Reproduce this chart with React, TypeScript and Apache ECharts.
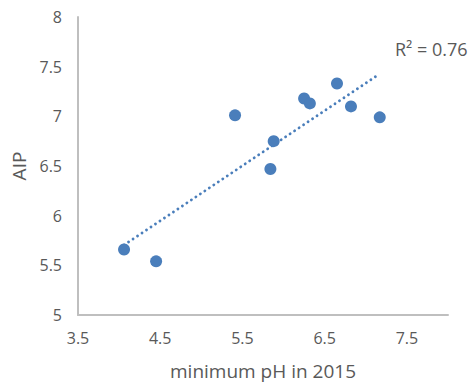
import React, { useEffect, useRef } from "react";
import * as echarts from "echarts";

const minPH: number[] = [4.06, 4.45, 5.41, 5.88, 5.84, 6.25, 6.32, 6.65, 6.82, 7.17];
const aip: number[] = [5.66, 5.54, 7.01, 6.75, 6.47, 7.18, 7.13, 7.33, 7.10, 6.99];
const xAxisName = "minimum pH in 2015";
const yAxisName = "AIP";
const r2Label = "R\u00B2 = 0.76";

const FONT = "'Open Sans', sans-serif";
const TEXT = "#595959";
const AXIS = "#bfbfbf";
const BLUE = "#4a7ebb";

function fit(xs: number[], ys: number[]) {
  const n = xs.length;
  const mx = xs.reduce((a, b) => a + b, 0) / n;
  const my = ys.reduce((a, b) => a + b, 0) / n;
  let sxy = 0;
  let sxx = 0;
  for (let i = 0; i < n; i++) {
    sxy += (xs[i] - mx) * (ys[i] - my);
    sxx += (xs[i] - mx) * (xs[i] - mx);
  }
  const slope = sxy / sxx;
  const intercept = my - slope * mx;
  return { slope, intercept };
}

export default function App() {
  const ref = useRef<HTMLDivElement>(null);
  useEffect(() => {
    if (!ref.current) return;
    const chart = echarts.init(ref.current, undefined, { renderer: "svg" });
    const { slope, intercept } = fit(minPH, aip);
    const x0 = Math.min(...minPH);
    const x1 = Math.max(...minPH);
    const trend = [
      [x0, intercept + slope * x0],
      [x1, intercept + slope * x1],
    ];
    chart.setOption({
      animation: false,
      grid: { left: 78, right: 22, top: 17, bottom: 69, containLabel: false },
      xAxis: {
        type: "value",
        min: 3.5,
        max: 8,
        interval: 1,
        name: xAxisName,
        nameLocation: "middle",
        nameGap: 46,
        nameTextStyle: { color: TEXT, fontFamily: FONT, fontSize: 19 },
        axisLine: { show: true, onZero: false, lineStyle: { color: AXIS, width: 2 } },
        axisTick: { show: false },
        splitLine: { show: false },
        axisLabel: {
          color: TEXT,
          fontFamily: FONT,
          fontSize: 16,
          margin: 15,
          showMaxLabel: false,
          formatter: (v: number) => (v === 8 ? "" : String(v)),
        },
      },
      yAxis: {
        type: "value",
        min: 5,
        max: 8,
        interval: 0.5,
        name: yAxisName,
        nameLocation: "middle",
        nameGap: 48,
        nameTextStyle: { color: TEXT, fontFamily: FONT, fontSize: 19 },
        axisLine: { show: true, onZero: false, lineStyle: { color: AXIS, width: 2 } },
        axisTick: { show: false },
        splitLine: { show: false },
        axisLabel: { color: TEXT, fontFamily: FONT, fontSize: 16, margin: 16 },
      },
      graphic: [
        {
          type: "text",
          left: 395,
          top: 40,
          style: { text: r2Label, fill: TEXT, font: `18px ${FONT}` },
        },
      ],
      series: [
        {
          type: "line",
          data: trend,
          symbol: "none",
          silent: true,
          lineStyle: { color: BLUE, width: 2.8, type: [0.1, 5.3], cap: "round" },
          z: 1,
        },
        {
          type: "scatter",
          data: minPH.map((x, i) => [x, aip[i]]),
          symbol: "circle",
          symbolSize: 12,
          itemStyle: { color: BLUE, opacity: 1 },
          z: 2,
        },
      ],
    });
    return () => chart.dispose();
  }, []);
  return (
    <div
      ref={ref}
      style={{ position: "fixed", left: 0, top: 0, width: 470, height: 385, background: "#fff" }}
    />
  );
}
